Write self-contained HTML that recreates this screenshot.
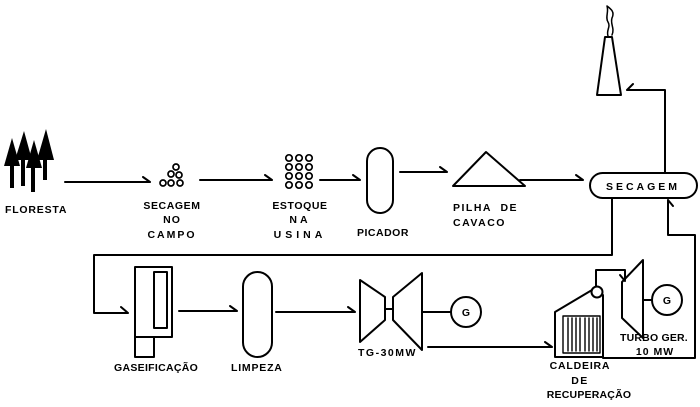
<!DOCTYPE html>
<html><head><meta charset="utf-8"><style>
html,body{margin:0;padding:0;background:#fff;}
svg{display:block;}
text{font-family:"Liberation Sans",sans-serif;font-weight:bold;font-size:10.5px;fill:#000;}
</style></head><body>
<svg width="700" height="407" viewBox="0 0 700 407" xmlns="http://www.w3.org/2000/svg">
<g fill="none" stroke="#000" stroke-width="2" stroke-linecap="round" stroke-linejoin="round">
<path d="M65 182H150M143 177L150 182"/>
<path d="M200 180H272M265 175L272 180"/>
<path d="M320 180H360M353 175L360 180"/>
<path d="M400 172H447M440 167L447 172"/>
<path d="M520 180H583M576 175L583 180"/>
<rect x="367" y="148" width="26" height="65" rx="13"/>
<path d="M453 186L486 152L525 186Z"/>
<rect x="590" y="173" width="107" height="25" rx="12.5"/>
<path d="M665 173V90H627M633 84L627 90"/>
<path d="M605 37H612L621 95H597Z"/>
<path d="M608 36C606 30 611 27 608 22C605 17 609 12 607 6C611 9 615 12 612 18C610 24 615 28 612 35" stroke-width="1.5"/>
<path d="M612 198V255H94V313H128M121 307L128 313"/>
<rect x="135" y="267" width="37" height="70"/>
<rect x="154" y="272" width="13" height="56"/>
<rect x="135" y="337" width="19" height="20"/>
<path d="M179 311H237M230 306L237 311"/>
<rect x="243" y="272" width="29" height="85" rx="14.5"/>
<path d="M276 312H355M348 307L355 312"/>
<path d="M360 280L385 297V320L360 342Z"/>
<path d="M393 297L422 273V350L393 320Z"/>
<path d="M385 309H393M422 312H451"/>
<circle cx="466" cy="312" r="15"/>
<path d="M428 347H552M545 342L552 347"/>
<path d="M555 357V312L592 290M603 295V357H555"/>
<circle cx="597" cy="292" r="5.5"/>
<g stroke-width="1.4">
<rect x="563" y="316" width="37" height="37"/>
<path d="M568 318V351M572 318V351M576 318V351M580 318V351M585 318V351M589 318V351M593 318V351M597 318V351"/>
</g>
<path d="M596 286V270H625V280M620 275L625 281"/>
<path d="M622 282L643 260V338L622 318Z"/>
<path d="M643 300H652"/>
<circle cx="667" cy="300" r="15"/>
<path d="M603 358H695V235H668V200M668 200L673 206"/>
</g>
<g fill="#000">
<path d="M4 166L12 138L20 166Z"/><rect x="10" y="150" width="4" height="38"/>
<path d="M15 160L24 131L32 160Z"/><rect x="21" y="145" width="4" height="41"/>
<path d="M26 168L34 140L42 168Z"/><rect x="31" y="152" width="4" height="40"/>
<path d="M37 160L46 129L54 160Z"/><rect x="43" y="145" width="4" height="35"/>
</g>
<g fill="none" stroke="#000" stroke-width="1.7">
<circle cx="176" cy="167" r="3"/>
<circle cx="171" cy="174" r="3"/><circle cx="179" cy="175" r="3"/>
<circle cx="163" cy="183" r="3"/><circle cx="171" cy="183" r="3"/><circle cx="180" cy="183" r="3"/>
<circle cx="289" cy="158" r="3.2"/><circle cx="299" cy="158" r="3.2"/><circle cx="309" cy="158" r="3.2"/>
<circle cx="289" cy="167" r="3.2"/><circle cx="299" cy="167" r="3.2"/><circle cx="309" cy="167" r="3.2"/>
<circle cx="289" cy="176" r="3.2"/><circle cx="299" cy="176" r="3.2"/><circle cx="309" cy="176" r="3.2"/>
<circle cx="289" cy="185" r="3.2"/><circle cx="299" cy="185" r="3.2"/><circle cx="309" cy="185" r="3.2"/>
</g>
<text x="466" y="316" text-anchor="middle">G</text>
<text x="667" y="304" text-anchor="middle">G</text>
<text x="5" y="213" style="letter-spacing:0.8px">FLORESTA</text>
<text x="172" y="209" text-anchor="middle" style="letter-spacing:0.6px">SECAGEM</text>
<text x="172" y="223" text-anchor="middle" style="letter-spacing:1px">NO</text>
<text x="172" y="238" text-anchor="middle" style="letter-spacing:2px">CAMPO</text>
<text x="300" y="209" text-anchor="middle" style="letter-spacing:0.6px">ESTOQUE</text>
<text x="300" y="223" text-anchor="middle" style="letter-spacing:3px">NA</text>
<text x="300" y="238" text-anchor="middle" style="letter-spacing:4px">USINA</text>
<text x="357" y="236" style="letter-spacing:0.5px">PICADOR</text>
<text x="453" y="211" style="letter-spacing:1.5px;white-space:pre">PILHA  DE</text>
<text x="453" y="226" style="letter-spacing:1.5px">CAVACO</text>
<text x="643" y="190" text-anchor="middle" style="letter-spacing:3px">SECAGEM</text>
<text x="114" y="371" style="letter-spacing:0.3px">GASEIFICAÇÃO</text>
<text x="231" y="371" style="letter-spacing:0.8px">LIMPEZA</text>
<text x="358" y="356" style="letter-spacing:1.5px">TG-30MW</text>
<text x="620" y="341" style="letter-spacing:0.2px">TURBO GER.</text>
<text x="655" y="355" text-anchor="middle" style="letter-spacing:1px">10 MW</text>
<text x="580" y="369" text-anchor="middle" style="letter-spacing:0.8px">CALDEIRA</text>
<text x="580" y="384" text-anchor="middle" style="letter-spacing:1.5px">DE</text>
<text x="589" y="398" text-anchor="middle" style="letter-spacing:0.2px">RECUPERAÇÃO</text>
</svg>
</body></html>
